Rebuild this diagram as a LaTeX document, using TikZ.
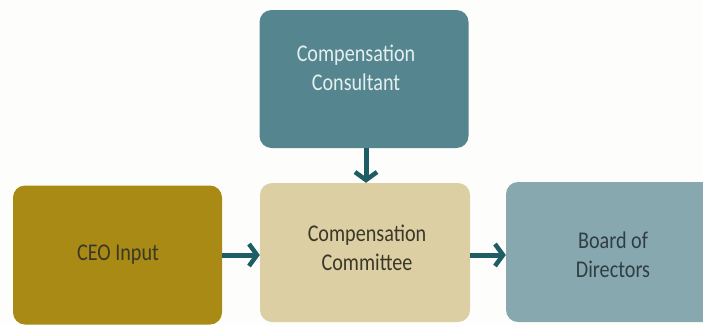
\documentclass[tikz,border=0pt]{standalone}
\usepackage{fontspec}
\setmainfont[FakeStretch=0.84]{Carlito}
\usetikzlibrary{arrows.meta}
\definecolor{bgc}{HTML}{FDFDFB}
\definecolor{topc}{HTML}{55868F}
\definecolor{ceoc}{HTML}{A98A14}
\definecolor{comc}{HTML}{DCCFA4}
\definecolor{boardc}{HTML}{88A8AF}
\definecolor{arrc}{HTML}{1E5D64}
\definecolor{darktxt}{HTML}{3A3828}
\definecolor{boardtxt}{HTML}{2F3E44}
\definecolor{toptxt}{HTML}{E4EEEF}
\tikzset{
  box/.style={rounded corners=12pt, minimum width=209pt, minimum height=139pt, inner sep=0pt},
  lbl/.style={align=center, inner sep=0pt, font=\fontsize{24}{29}\selectfont},
  flow/.style={draw=arrc, line width=5pt, -{Straight Barb[length=8pt,width=22pt,line width=4.5pt]}}
}
\begin{document}
\begin{tikzpicture}[x=1pt,y=-1pt]
\useasboundingbox (0,0) rectangle (703,325);
\fill[bgc] (0,0) rectangle (703,325);
\begin{scope}
\clip (0,0) rectangle (703,325);
\node[box, fill=topc, minimum height=138pt] (cons) at (364,79) {};
\node[box, fill=ceoc] (ceo) at (117.5,255) {};
\node[box, fill=comc, minimum width=210pt] (com) at (365,252.5) {};
\node[box, fill=boardc, minimum height=140pt, minimum width=210pt] (board) at (611,252) {};
\end{scope}
\node[lbl, text=toptxt] (consT) at (356,68) {Compensation\\Consultant};
\node[lbl, text=darktxt] (ceoT) at (118,255) {CEO Input};
\node[lbl, text=darktxt] (comT) at (367,248) {Compensation\\Committee};
\node[lbl, text=boardtxt] (boardT) at (613,255) {Board of\\Directors};
\draw[flow] (cons.south -| 366,0) -- (com.north -| 366,0);
\draw[flow] (ceo.east |- 0,255) -- (com.west |- 0,255);
\draw[flow] (com.east |- 0,255) -- (board.west |- 0,255);
\end{tikzpicture}
\end{document}
